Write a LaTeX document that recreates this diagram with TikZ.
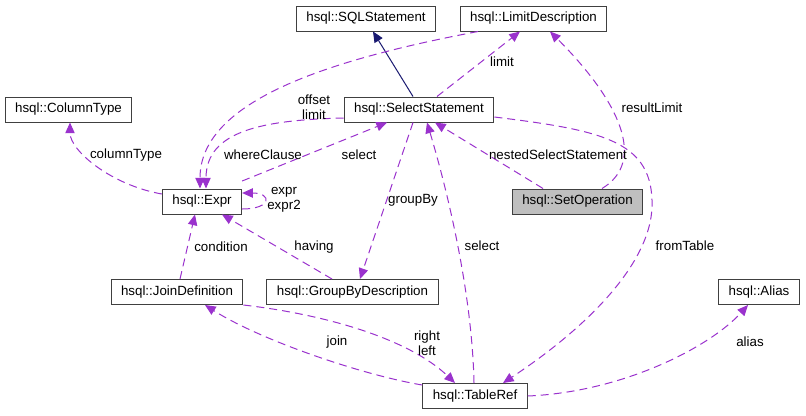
\documentclass[tikz,border=0pt]{standalone}
\usepackage{fontspec}
\setmainfont{Liberation Sans}
\usetikzlibrary{arrows.meta, positioning, calc}
\definecolor{edgepurple}{RGB}{154,50,205}
\definecolor{inhnavy}{RGB}{25,25,112}
\definecolor{boxgray}{RGB}{64,64,64}
\definecolor{hdrgray}{RGB}{191,191,191}
\tikzset{
  cls/.style={rectangle, draw=boxgray, fill=white, inner xsep=7.5pt, inner ysep=0pt,
    minimum height=18.75pt, line width=0.75pt, font=\fontsize{10}{12}\selectfont},
  member/.style={-{Triangle[length=8pt,width=7pt]}, color=edgepurple, line width=0.75pt,
    dash pattern=on 6pt off 3.75pt},
  inherit/.style={-{Triangle[length=8pt,width=7pt]}, color=inhnavy, line width=0.75pt},
  lbl/.style={font=\fontsize{10}{11.5}\selectfont, inner sep=0pt, align=center}
}

\begin{document}
\begin{tikzpicture}[x=0.75pt, y=-0.75pt]
  \useasboundingbox (0,0) rectangle (806,415);

  % Classes
  \node[cls] (sqlstmt) at (366, 18.5) {hsql::SQLStatement};
  \node[cls] (limitdesc) at (533.5, 18.5) {hsql::LimitDescription};
  \node[cls] (coltype) at (68.5, 109.5) {hsql::ColumnType};
  \node[cls] (selstmt) at (419, 109.5) {hsql::SelectStatement};
  \node[cls] (expr) at (202, 201.5) {hsql::Expr};
  \node[cls, fill=hdrgray] (setop) at (577.5, 201.5) {hsql::SetOperation};
  \node[cls] (joindef) at (177, 292) {hsql::JoinDefinition};
  \node[cls] (groupby) at (352.5, 292) {hsql::GroupByDescription};
  \node[cls] (alias) at (759, 292) {hsql::Alias};
  \node[cls] (tableref) at (475, 396) {hsql::TableRef};

  % Inheritance
  \draw[inherit] ([shift={(-6,0)}]selstmt.north) -- ([shift={(7,0)}]sqlstmt.south);

  % Members of SelectStatement
  \draw[member] ([shift={(18,0)}]selstmt.north) -- ([shift={(-13.5,0)}]limitdesc.south);
  \draw[member] ([shift={(-55.5,0)}]limitdesc.south) .. controls +(-148,28) and +(0,-88) .. ([shift={(-2,0)}]expr.north);
  \draw[member] ([shift={(0,8.5)}]selstmt.west) .. controls +(-80,2) and +(0,-58) .. ([shift={(4,0)}]expr.north);
  \draw[member] ([shift={(-6,0)}]selstmt.south) -- ([shift={(7.5,0)}]groupby.north);
  \draw[member] ([shift={(0,7.5)}]selstmt.east) .. controls +(105,13) and +(-2,-60) .. (652,200)
    .. controls +(3,60) and +(85,-56) .. ([shift={(28,0)}]tableref.north);

  % Members of Expr
  \draw[member] ([shift={(0,-7.5)}]expr.north east) -- ([shift={(-32,0)}]selstmt.south);
  \draw[member] ([shift={(0,-7.5)}]expr.west) .. controls +(-51,-9) and +(0,28) .. ([shift={(1.5,0)}]coltype.south);
  \draw[member] ([shift={(0,7.5)}]expr.east) .. controls +(30,0) and +(30,0) .. ([shift={(0,-8.5)}]expr.east);

  % Other members
  \draw[member] ([shift={(-20.5,0)}]groupby.north) -- ([shift={(20,0)}]expr.south);
  \draw[member] ([shift={(3,0)}]joindef.north) -- ([shift={(-7,0)}]expr.south);
  \draw[member] ([shift={(-34.5,0)}]setop.north) -- ([shift={(16,0)}]selstmt.south);
  \draw[member] ([shift={(24.5,0)}]setop.north) .. controls +(45,-27) and +(70,70) .. ([shift={(16.5,0)}]limitdesc.south);
  \draw[member] ([shift={(-1,0)}]tableref.north) .. controls +(-2,-95) and +(18,60) .. ([shift={(8,0)}]selstmt.south);
  \draw[member] (joindef.south east) .. controls +(86,10) and +(-45,-43) .. ([shift={(-20,0)}]tableref.north);
  \draw[member] ([shift={(0,2)}]tableref.north west) .. controls +(-60,-10) and +(55,35) .. ([shift={(28,0)}]joindef.south);
  \draw[member] (tableref.east) .. controls +(95,-4) and +(-38,42) .. ([shift={(-11,0)}]alias.south);

  % Edge labels
  \node[lbl] (l-limit) at (502, 62) {limit};
  \node[lbl] (l-offset) at (314, 107.5) {offset\\limit};
  \node[lbl] (l-where) at (263, 155) {whereClause};
  \node[lbl] (l-select) at (359, 155) {select};
  \node[lbl] (l-coltype) at (126, 155) {columnType};
  \node[lbl] (l-expr) at (284, 199.5) {expr\\expr2};
  \node[lbl] (l-groupby) at (413, 200) {groupBy};
  \node[lbl] (l-having) at (314, 247) {having};
  \node[lbl] (l-cond) at (221, 247) {condition};
  \node[lbl] (l-nested) at (558, 155) {nestedSelectStatement};
  \node[lbl] (l-reslimit) at (652, 108) {resultLimit};
  \node[lbl] (l-tselect) at (482, 246) {select};
  \node[lbl] (l-from) at (685, 246) {fromTable};
  \node[lbl] (l-rl) at (427, 343) {right\\left};
  \node[lbl] (l-join) at (337, 342) {join};
  \node[lbl] (l-alias) at (750, 342) {alias};
\end{tikzpicture}
\end{document}
